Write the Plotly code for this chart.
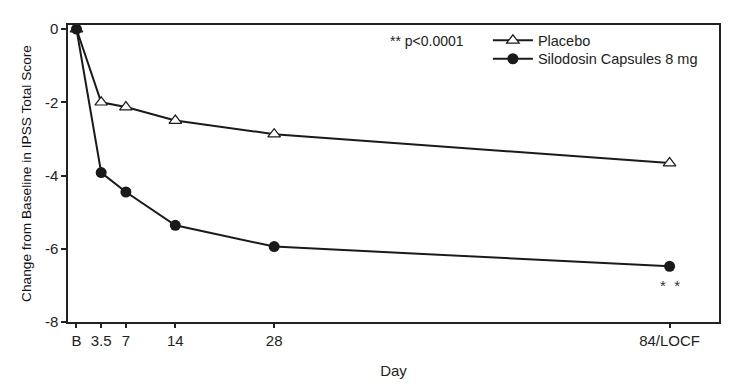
import plotly.graph_objects as go

days = [0, 3.5, 7, 14, 28, 84]
day_labels = ["B", "3.5", "7", "14", "28", "84/LOCF"]
placebo = [0, -2.0, -2.13, -2.5, -2.87, -3.66]
silodosin = [0, -3.92, -4.45, -5.36, -5.94, -6.48]
y_ticks = [0, -2, -4, -6, -8]
y_tick_labels = ["0", "-2", "-4", "-6", "-8"]

FONT = "Arial, Liberation Sans, sans-serif"
INK = "#222222"

fig = go.Figure()
fig.add_trace(go.Scatter(
    x=days, y=placebo, mode="lines+markers", name="Placebo", legend="legend",
    line=dict(color="#1a1a1a", width=2),
    marker=dict(symbol="triangle-up", size=11, color="white",
                line=dict(color="#1a1a1a", width=1.2)),
))
fig.add_trace(go.Scatter(
    x=days, y=silodosin, mode="lines+markers", name="Silodosin Capsules 8 mg",
    legend="legend2",
    line=dict(color="#1a1a1a", width=2),
    marker=dict(symbol="circle", size=11, color="#1a1a1a"),
))

fig.add_annotation(x=days[-1], y=silodosin[-1], text="*&nbsp;&nbsp;*", showarrow=False,
                   yshift=-19, font=dict(family=FONT, size=15, color="#333"))
fig.add_annotation(xref="paper", yref="paper", x=0.4916, y=0.946, xanchor="left",
                   yanchor="middle", text="** p<0.0001", showarrow=False,
                   font=dict(family=FONT, size=14, color=INK))

legend_common = dict(xanchor="left", yanchor="top", bgcolor="rgba(0,0,0,0)",
                     font=dict(family=FONT, size=14.5, color=INK),
                     tracegroupgap=0, itemwidth=40)

fig.update_layout(
    width=746, height=391,
    margin=dict(l=60, r=35, t=17, b=77, autoexpand=False),
    paper_bgcolor="white", plot_bgcolor="white",
    font=dict(family=FONT, size=14, color=INK),
    showlegend=True,
    legend=dict(x=0.645, y=1.002, **legend_common),
    legend2=dict(x=0.645, y=0.94, **legend_common),
    xaxis=dict(
        range=[-1.2, 91], tickvals=days, ticktext=day_labels,
        showgrid=False, zeroline=False, showline=True, linecolor=INK,
        linewidth=1.5, mirror=True, ticks="outside", tickwidth=2, ticklen=4,
        tickcolor=INK, tickfont=dict(size=15, color=INK), automargin=False,
        title=dict(text="Day", standoff=18, font=dict(size=15, color=INK)),
    ),
    yaxis=dict(
        range=[-8, 0.11], tickvals=y_ticks, ticktext=y_tick_labels,
        showgrid=False, zeroline=False, showline=True, linecolor=INK,
        linewidth=1.5, mirror=True, ticks="outside", tickwidth=2, ticklen=5,
        tickcolor=INK, tickfont=dict(size=15, color=INK), automargin=False,
        title=dict(text="Change from Baseline in IPSS Total Score", standoff=10,
                   font=dict(size=13.7, color="#111111")),
    ),
)

fig.write_html("out.html")
